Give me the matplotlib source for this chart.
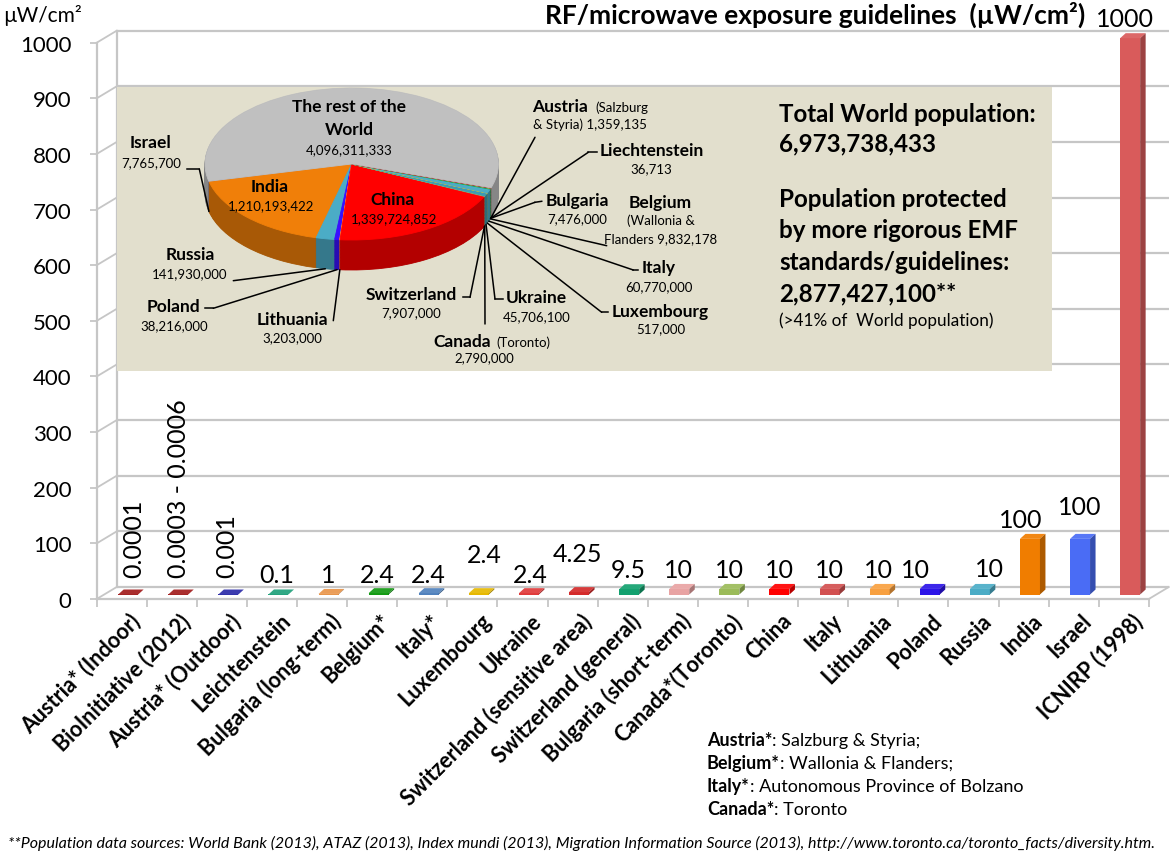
import matplotlib
matplotlib.use("Agg")
import matplotlib.pyplot as plt
import numpy as np
from matplotlib.patches import Polygon
from matplotlib.lines import Line2D
import matplotlib.colors as mcolors

plt.rcParams['font.family'] = ['Lato', 'DejaVu Sans']

# ---------------- data ----------------
categories = ["Austria* (Indoor)", "BioInitiative (2012)", "Austria* (Outdoor)", "Leichtenstein",
              "Bulgaria (long-term)", "Belgium*", "Italy*", "Luxembourg", "Ukraine",
              "Switzerland (sensitive area)", "Switzerland (general)", "Bulgaria (short-term)",
              "Canada*(Toronto)", "China", "Italy", "Lithuania", "Poland", "Russia", "India",
              "Israel", "ICNIRP (1998)"]
values = [0.0001, 0.0006, 0.001, 0.1, 1, 2.4, 2.4, 2.4, 2.4, 4.25, 9.5,
          10, 10, 10, 10, 10, 10, 10, 100, 100, 1000]
value_labels = ["0.0001", "0.0003 - 0.0006", "0.001", "0.1", "1", "2.4", "2.4", "2.4", "2.4",
                "4.25", "9.5", "10", "10", "10", "10", "10", "10", "10", "100", "100", "1000"]
bar_colors = ["#A21C1C", "#A21C1C", "#2B2BA8", "#1FA07A", "#E8954A", "#129A12", "#4F81BD",
              "#E6B800", "#E03A3A", "#D42A2A", "#12A06E", "#E8A3A3", "#9BBB59", "#FF0000",
              "#D25050", "#F8A040", "#2C14E8", "#4BACC6", "#F07D00", "#4A6CF5", "#D95B5B"]
y_ticks = list(range(0, 1001, 100))

pie_names = ["Israel", "India", "Russia", "Poland", "Lithuania", "China", "Switzerland",
             "Canada", "Ukraine", "Luxembourg", "Italy", "Belgium", "Bulgaria",
             "Liechtenstein", "Austria", "The rest of the World"]
pie_values = [7765700, 1210193422, 141930000, 38216000, 3203000, 1339724852, 7907000,
              2790000, 45706100, 517000, 60770000, 9832178, 7476000, 36713, 1359135,
              4096311333]
pie_colors = ["#4F6FE8", "#F07F09", "#4BACC6", "#3A10FF", "#F79646", "#FF0000", "#C0504D",
              "#9BBB59", "#3D9BB3", "#FFC000", "#4BACC6", "#00B050", "#F79646", "#1F9E77",
              "#8B0000", "#C0C0C0"]
total_population = "6,973,738,433"
protected_population = "2,877,427,100**"

# ---------------- layout (pixels of the 1170x854 canvas) ----------------
W, H = 1170, 854
fig = plt.figure(figsize=(W / 100, H / 100), dpi=100)


def fx(x):
    return x / W


def fy(y):
    return 1 - y / H


GRID = "#C6C6C6"
AX_L, AX_R, AX_T, AX_B = 96.7, 1148.8, 43.7, 600.0
n = len(categories)
ax = fig.add_axes([fx(AX_L), fy(AX_B), (AX_R - AX_L) / W, (AX_B - AX_T) / H])
ax.set_xlim(0, n)
ax.set_ylim(0, 1000)
ax.patch.set_visible(False)
px_x = (AX_R - AX_L) / n
px_y = (AX_B - AX_T) / 1000
DX, DY = 20 / px_x, 12 / px_y          # depth of walls

# back wall + side wall
for v in y_ticks:
    ax.plot([DX, n + DX], [v + DY, v + DY], color=GRID, lw=1.6, clip_on=False, zorder=0.5,
            solid_capstyle='butt')
    ax.plot([0, DX], [v, v + DY], color=GRID, lw=1.3, clip_on=False, zorder=0.5)
ax.plot([DX, DX], [DY, 1000 + DY], color=GRID, lw=1.6, clip_on=False, zorder=0.5)
ax.plot([n, n + DX], [0, DY], color=GRID, lw=1.3, clip_on=False, zorder=0.5)

for s in ("top", "right"):
    ax.spines[s].set_visible(False)
for s in ("left", "bottom"):
    ax.spines[s].set_color(GRID)
    ax.spines[s].set_linewidth(1.6)

ax.set_yticks(y_ticks)
ax.tick_params(axis='y', length=5, width=1.3, color=GRID, labelsize=16, pad=13)
ax.set_xticks(np.arange(n + 1), minor=True)
ax.tick_params(axis='x', which='minor', length=5.5, width=1.3, color=GRID)
XLBL_SHIFT = 15 / px_x
ax.set_xticks(np.arange(n) + 0.5 + XLBL_SHIFT)
ax.set_xticklabels(categories, rotation=45, ha='right', va='center', rotation_mode='anchor',
                   fontweight='bold', fontsize=15.5)
ax.tick_params(axis='x', which='major', length=0, pad=13)

# bars (3-D look: front face + top + side)
BAR_W = 20 / px_x
BAR_OFF = 6.4 / px_x
BAR_BASE = 4.5 / px_y
BDX, BDY = 5.5 / px_x, 5 / px_y
xc = np.arange(n) + 0.5 + BAR_OFF
ax.bar(xc, values, width=BAR_W, bottom=BAR_BASE, color=bar_colors, linewidth=0, zorder=3,
       clip_on=False)


def shade(c, f):
    r, g, b = mcolors.to_rgb(c)
    if f < 1:
        return (r * f, g * f, b * f)
    return (r + (1 - r) * (f - 1), g + (1 - g) * (f - 1), b + (1 - b) * (f - 1))


for x, v, c in zip(xc, values, bar_colors):
    x0, x1 = x - BAR_W / 2, x + BAR_W / 2
    top = v + BAR_BASE
    ax.add_patch(Polygon([(x0, top), (x1, top), (x1 + BDX, top + BDY), (x0 + BDX, top + BDY)],
                         closed=True, color=shade(c, 1.08), lw=0, zorder=3, clip_on=False))
    ax.add_patch(Polygon([(x1, BAR_BASE), (x1 + BDX, BAR_BASE + BDY), (x1 + BDX, top + BDY),
                          (x1, top)], closed=True, color=shade(c, 0.72), lw=0, zorder=3,
                         clip_on=False))

# value labels
label_dx = [0.23, 0.14, 0.10, 0.09, 0.12, 0.10, 0.11, 0.23, 0.15, 0.09, 0.10, 0.12, 0.12,
            0.12, 0.12, 0.11, -0.15, 0.31, -0.05, 0.13, 0.02]
label_base_px = [578, 578, 578, 583, 583, 583, 583, 563, 583, 562, 578, 578, 578, 578, 578,
                 578, 578, 577, 528, 515, 27]
label_rot = [90, 90, 90] + [0] * 18
for k in range(n):
    yb = (AX_B - label_base_px[k]) / px_y
    ax.text(k + 0.5 + label_dx[k], yb, value_labels[k], rotation=label_rot[k], ha='center',
            va='bottom' if label_rot[k] else 'baseline', fontsize=18, zorder=5, clip_on=False)

# ---------------- inset box with the pie ----------------
BOX_L, BOX_T, BOX_R, BOX_B = 116.7, 88.0, 1051.7, 372.0
PIE_CX, PIE_CY, PIE_RX, PIE_RY = 351.7, 165.0, 146.7, 76.0
PIE_DEPTH = 30 / PIE_RY
PIE_START = 193.1
pax = fig.add_axes([fx(BOX_L), fy(BOX_B), (BOX_R - BOX_L) / W, (BOX_B - BOX_T) / H], zorder=1)
side_colors = [shade(c, 0.7) for c in pie_colors]


def edge_as_face(ws):
    for w in ws:
        w.set_edgecolor(w.get_facecolor())
        w.set_linewidth(0.6)


for d in np.linspace(PIE_DEPTH, 0, 40)[:-1]:
    ws, _ = pax.pie(pie_values, colors=side_colors, startangle=PIE_START, counterclock=True,
                    center=(0, -d), radius=1)
    edge_as_face(ws)
wedges, _ = pax.pie(pie_values, colors=pie_colors, startangle=PIE_START, counterclock=True,
                    center=(0, 0), radius=1)
edge_as_face(wedges)
pax.set_aspect('auto')
pax.set_xlim((BOX_L - PIE_CX) / PIE_RX, (BOX_R - PIE_CX) / PIE_RX)
pax.set_ylim((PIE_CY - BOX_B) / PIE_RY, (PIE_CY - BOX_T) / PIE_RY)
pax.set_frame_on(True)
pax.set_facecolor("#E2DFCD")
for s in pax.spines.values():
    s.set_visible(False)
pax.set_xticks([])
pax.set_yticks([])


def slice_point(w):
    th = np.deg2rad((w.theta1 + w.theta2) / 2)
    return (np.cos(th), np.sin(th) - PIE_DEPTH)


NAME_FS, NUM_FS = 12.5, 9.5


def ftext(x, y, s, **kw):
    kw.setdefault('ha', 'center')
    kw.setdefault('va', 'baseline')
    return fig.text(fx(x), fy(y), s, zorder=6, **kw)


# name position, number position, line end, elbow end
pie_label_layout = {
    "Israel": ((150.8, 148.3), (151, 166.7), (199.3, 170), (186.7, 170)),
    "India": ((270, 191.7), (271, 210), None, None),
    "Russia": ((190.5, 260), (190, 278.3), (233.3, 281.7), None),
    "Poland": ((173.7, 311.7), (174, 330), (213.3, 309.3), (205, 309.3)),
    "Lithuania": ((292.5, 325), (292, 341.7), (333.3, 321.7), None),
    "China": ((393, 205), (394, 222.7), None, None),
    "Switzerland": ((410.8, 300), (410.8, 317.3), (470, 298.3), (463.3, 298.3)),
    "Canada": (None, (484, 361.7), (485, 325), None),
    "Ukraine": ((536, 303.3), (536.3, 321), (495, 300), (503.3, 300)),
    "Luxembourg": ((660.3, 316.7), (661, 333.3), (601.7, 313.3), (608.3, 313.3)),
    "Italy": ((659, 273.3), (659, 291), (633.3, 271), (638.3, 271)),
    "Belgium": ((660.5, 207.7), None, (606.7, 246.7), None),
    "Bulgaria": ((577.5, 205.7), (577.5, 223.3), (535, 203.3), (541.7, 202.3)),
    "Liechtenstein": ((651.7, 155.7), (651.7, 173.3), (588.3, 153.3), (596.7, 153.3)),
    "Austria": (None, None, (535, 138.3), None),
    "The rest of the World": (None, (349, 154), None, None),
}

for name, val, w in zip(pie_names, pie_values, wedges):
    name_xy, num_xy, line_end, elbow = pie_label_layout[name]
    if name_xy is not None:
        ftext(*name_xy, name, fontsize=NAME_FS, fontweight='bold')
    if num_xy is not None:
        ftext(*num_xy, f"{val:,}", fontsize=NUM_FS)
    if line_end is not None:
        pax.annotate('', xy=slice_point(w), xycoords='data',
                     xytext=(fx(line_end[0]), fy(line_end[1])), textcoords='figure fraction',
                     arrowprops=dict(arrowstyle='-', lw=1.1, color='black', shrinkA=0,
                                     shrinkB=0), annotation_clip=False, zorder=6)
        if elbow is not None:
            fig.add_artist(Line2D([fx(line_end[0]), fx(elbow[0])],
                                  [fy(line_end[1]), fy(elbow[1])], lw=1.1, color='black',
                                  zorder=6))

# special pie labels
ftext(349, 111.7, "The rest of the", fontsize=NAME_FS, fontweight='bold')
ftext(349, 135, "World", fontsize=NAME_FS, fontweight='bold')
ftext(588.3, 111.7, "Austria", fontsize=NAME_FS, fontweight='bold', ha='right')
ftext(595, 111.7, "(Salzburg", fontsize=NUM_FS, ha='left')
ftext(590, 129.3, f"& Styria) {pie_values[pie_names.index('Austria')]:,}", fontsize=NUM_FS)
ftext(660.5, 225, "(Wallonia &", fontsize=NUM_FS)
ftext(661, 243.3, f"Flanders {pie_values[pie_names.index('Belgium')]:,}", fontsize=NUM_FS)
ftext(491, 346.7, "Canada", fontsize=NAME_FS, fontweight='bold', ha='right')
ftext(496.7, 346.7, "(Toronto)", fontsize=NUM_FS, ha='left')

# right-hand text in the box
BX = 779
BFS = 17.4
ftext(BX, 121.7, "Total World population:", fontsize=BFS, fontweight='bold', ha='left')
ftext(BX, 151.7, total_population, fontsize=BFS, fontweight='bold', ha='left')
ftext(BX, 206.7, "Population protected", fontsize=BFS, fontweight='bold', ha='left')
ftext(BX, 238.5, "by more rigorous EMF", fontsize=BFS, fontweight='bold', ha='left')
ftext(BX, 270, "standards/guidelines:", fontsize=BFS, fontweight='bold', ha='left')
ftext(BX, 301.7, protected_population, fontsize=BFS, fontweight='bold', ha='left')
ftext(BX, 326, "(>41% of  World population)", fontsize=12.3, ha='left')

# titles
ftext(1085, 24, "RF/microwave exposure guidelines  (\u00b5W/cm\u00b2)", fontsize=19,
      fontweight='bold', ha='right')
ftext(3, 22, "\u00b5W/cm\u00b2", fontsize=15, ha='left')

# notes
notes = [("Austria*", ": Salzburg & Styria;"), ("Belgium*", ": Wallonia & Flanders;"),
         ("Italy*", ": Autonomous Province of Bolzano"), ("Canada*", ": Toronto")]
for i, (b, r) in enumerate(notes):
    t = ftext(707, 746 + 23 * i, b, fontsize=13, fontweight='bold', ha='left')
    ax.annotate(r, xy=(1, 0), xycoords=t, ha='left', va='bottom', fontsize=13,
                annotation_clip=False)

ftext(8, 848, "**Population data sources: World Bank (2013), ATAZ (2013), Index mundi (2013), "
      "Migration Information Source (2013), http://www.toronto.ca/toronto_facts/diversity.htm.",
      fontsize=11.5, style='italic', ha='left')

fig.savefig("out.png", dpi=100)
